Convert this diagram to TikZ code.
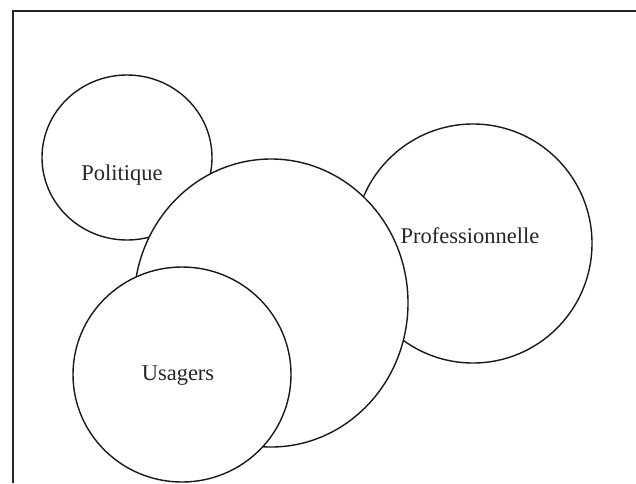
\documentclass[tikz,border=0pt]{standalone}
\usepackage{fontspec}
\setmainfont{Liberation Serif}
\begin{document}
\begin{tikzpicture}[x=1pt,y=-1pt,
  ring/.style={draw=black!90,line width=1.4pt,fill=white},
  lab/.style={font=\fontsize{22.5}{26}\selectfont,inner sep=0pt,text=black!85}]
\useasboundingbox (0,0) rectangle (636,483);
\draw[line width=1.5pt,black!85] (636,11) -- (13,11) -- (13,483);
\path[ring] (127,157.5) ellipse [x radius=85pt, y radius=82.5pt];
\path[ring] (473,243.5) ellipse [x radius=119pt, y radius=119.5pt];
\path[ring] (271,303) ellipse [x radius=137pt, y radius=144pt];
\path[ring] (182,374.5) ellipse [x radius=109pt, y radius=107.5pt];
\node[lab] (pol) at (122,175) {Politique};
\node[lab] (pro) at (470,236) {Professionnelle};
\node[lab] (usa) at (178,376) {Usagers};
\end{tikzpicture}
\end{document}
